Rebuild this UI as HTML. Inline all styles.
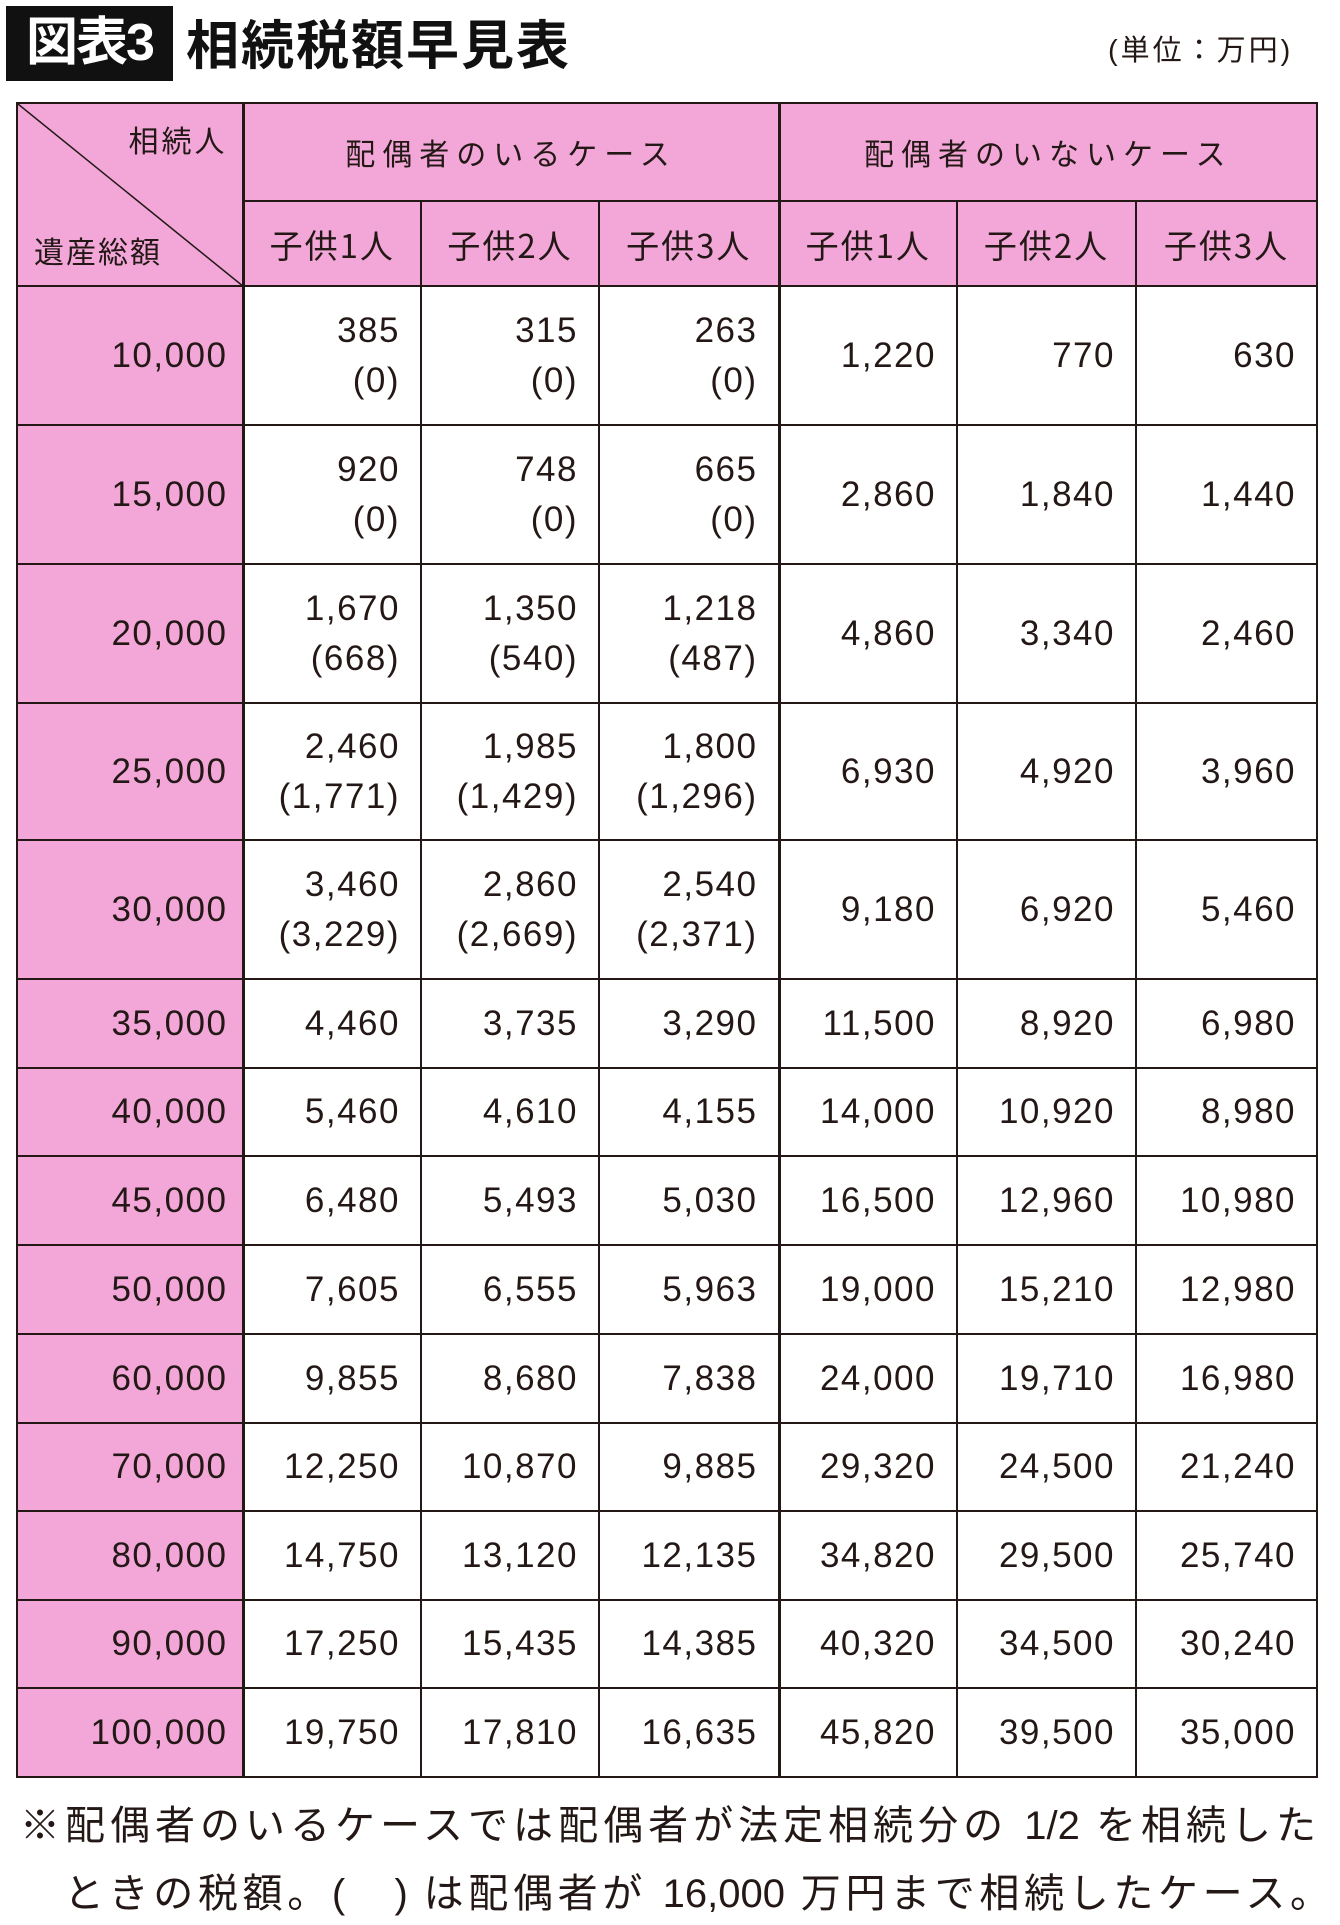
<!DOCTYPE html>
<html><head><meta charset="utf-8"><style>
body{margin:0;width:1340px;height:1925px;background:#fff;position:relative;overflow:hidden;font-family:"Liberation Sans","Noto Sans CJK JP",sans-serif;color:#231815}
.tb{position:absolute;left:6px;top:6px;width:167px;height:75px;background:#111;color:#fff;font:bold 52px/75px "Liberation Sans","Noto Sans CJK JP",sans-serif;text-align:center;letter-spacing:-2px}
.tt{position:absolute;left:186px;top:6px;font:bold 53px/72px "Noto Sans CJK JP",sans-serif;letter-spacing:2px;color:#111}
.unit{position:absolute;left:1108px;top:30px;font:29px/42px "Liberation Sans","Noto Sans CJK JP",sans-serif;letter-spacing:3px}
table{position:absolute;left:16px;top:102px;border-collapse:collapse;table-layout:fixed;width:1300px}
td{border:2px solid #231815;padding:0 20px 0 0;text-align:right;font-size:35px;letter-spacing:1.5px;background:#fff;vertical-align:middle;line-height:50px}
td.s{background:#f2a7d8;padding-right:14px}
td.h{background:#f2a7d8;text-align:center;padding:0;font-family:"Noto Sans CJK JP",sans-serif;font-size:33px;letter-spacing:2px}
td.g{letter-spacing:7px;font-size:30px}
.tk{border-right:3px solid #231815}
.fn{position:absolute;font:40px/50px "Liberation Sans","Noto Sans CJK JP",sans-serif;text-align:justify;text-align-last:justify;white-space:nowrap}
</style></head><body>
<div class="tb">図表3</div>
<div class="tt">相続税額早見表</div>
<div class="unit">(単位：万円)</div>
<table>
<colgroup><col style="width:226px"><col style="width:178px"><col style="width:178px"><col style="width:180px"><col style="width:178px"><col style="width:179px"><col style="width:181px"></colgroup>
<tr style="height:98px"><td class="h tk" rowspan="2" style="position:relative;">
<svg width="226" height="183" style="position:absolute;left:0;top:0"><line x1="0" y1="0" x2="226" y2="183" stroke="#231815" stroke-width="1.5"/></svg>
<span style="position:absolute;right:14px;top:10px;font-size:30px;letter-spacing:3px">相続人</span>
<span style="position:absolute;left:16px;bottom:10px;font-size:30px;letter-spacing:2px">遺産総額</span></td>
<td class="h g tk" colspan="3">配偶者のいるケース</td><td class="h g" colspan="3">配偶者のいないケース</td></tr>
<tr style="height:85px"><td class="h">子供1人</td><td class="h">子供2人</td><td class="h tk">子供3人</td><td class="h">子供1人</td><td class="h">子供2人</td><td class="h">子供3人</td></tr>
<tr style="height:139px"><td class="s tk">10,000</td><td>385<br>(0)</td><td>315<br>(0)</td><td class="tk">263<br>(0)</td><td>1,220</td><td>770</td><td>630</td></tr>
<tr style="height:139px"><td class="s tk">15,000</td><td>920<br>(0)</td><td>748<br>(0)</td><td class="tk">665<br>(0)</td><td>2,860</td><td>1,840</td><td>1,440</td></tr>
<tr style="height:139px"><td class="s tk">20,000</td><td>1,670<br>(668)</td><td>1,350<br>(540)</td><td class="tk">1,218<br>(487)</td><td>4,860</td><td>3,340</td><td>2,460</td></tr>
<tr style="height:137px"><td class="s tk">25,000</td><td>2,460<br>(1,771)</td><td>1,985<br>(1,429)</td><td class="tk">1,800<br>(1,296)</td><td>6,930</td><td>4,920</td><td>3,960</td></tr>
<tr style="height:139px"><td class="s tk">30,000</td><td>3,460<br>(3,229)</td><td>2,860<br>(2,669)</td><td class="tk">2,540<br>(2,371)</td><td>9,180</td><td>6,920</td><td>5,460</td></tr>
<tr style="height:89px"><td class="s tk">35,000</td><td>4,460</td><td>3,735</td><td class="tk">3,290</td><td>11,500</td><td>8,920</td><td>6,980</td></tr>
<tr style="height:88px"><td class="s tk">40,000</td><td>5,460</td><td>4,610</td><td class="tk">4,155</td><td>14,000</td><td>10,920</td><td>8,980</td></tr>
<tr style="height:89px"><td class="s tk">45,000</td><td>6,480</td><td>5,493</td><td class="tk">5,030</td><td>16,500</td><td>12,960</td><td>10,980</td></tr>
<tr style="height:89px"><td class="s tk">50,000</td><td>7,605</td><td>6,555</td><td class="tk">5,963</td><td>19,000</td><td>15,210</td><td>12,980</td></tr>
<tr style="height:89px"><td class="s tk">60,000</td><td>9,855</td><td>8,680</td><td class="tk">7,838</td><td>24,000</td><td>19,710</td><td>16,980</td></tr>
<tr style="height:88px"><td class="s tk">70,000</td><td>12,250</td><td>10,870</td><td class="tk">9,885</td><td>29,320</td><td>24,500</td><td>21,240</td></tr>
<tr style="height:89px"><td class="s tk">80,000</td><td>14,750</td><td>13,120</td><td class="tk">12,135</td><td>34,820</td><td>29,500</td><td>25,740</td></tr>
<tr style="height:88px"><td class="s tk">90,000</td><td>17,250</td><td>15,435</td><td class="tk">14,385</td><td>40,320</td><td>34,500</td><td>30,240</td></tr>
<tr style="height:89px"><td class="s tk">100,000</td><td>19,750</td><td>17,810</td><td class="tk">16,635</td><td>45,820</td><td>39,500</td><td>35,000</td></tr>
</table>
<div class="fn" style="left:20px;top:1801px;width:1296px;white-space:normal">※配偶者のいるケースでは配偶者が法定相続分の 1/2 を相続した</div>
<div class="fn" style="left:64px;top:1869px;width:1266px;white-space:normal">ときの税額。(　) は配偶者が 16,000 万円まで相続したケース。</div>
</body></html>
